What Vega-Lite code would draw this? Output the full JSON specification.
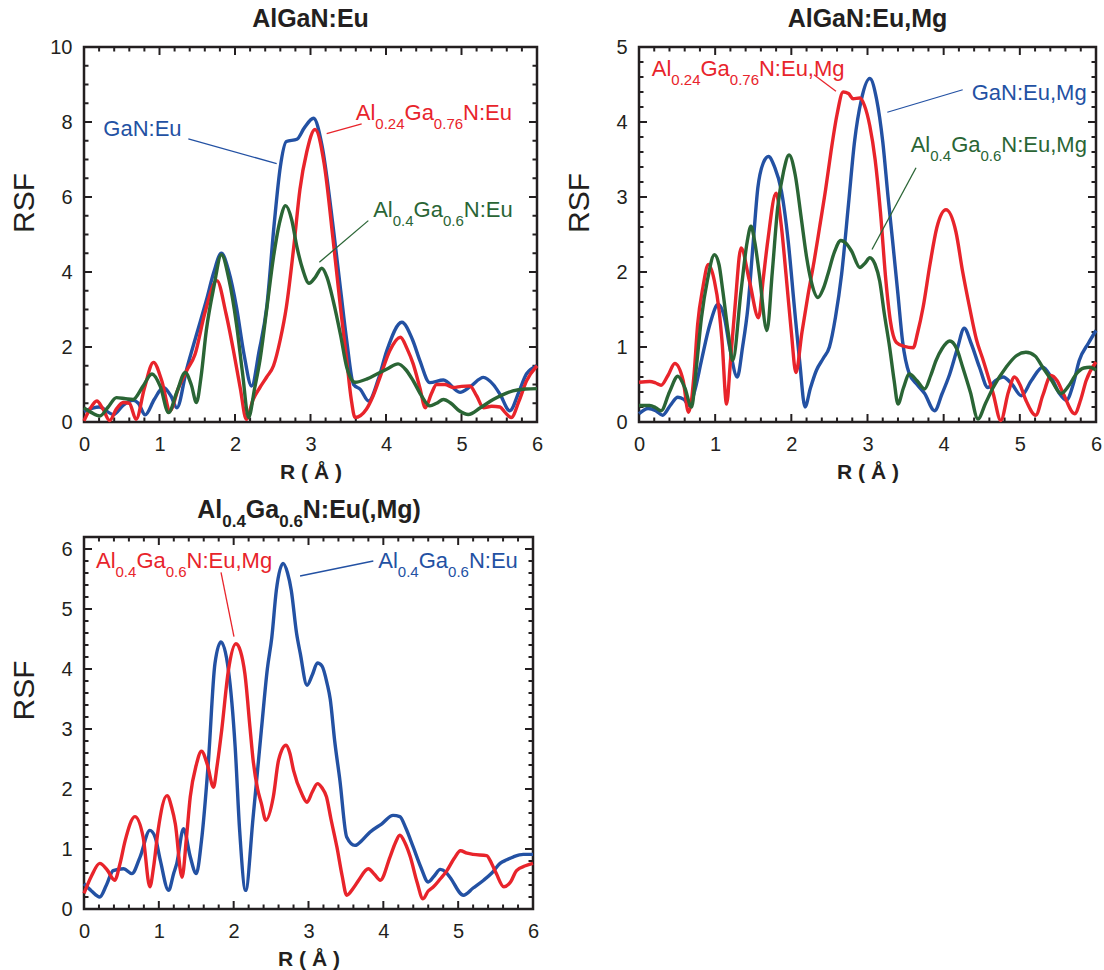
{
"$schema": "https://vega.github.io/schema/vega-lite/v6.json",
"background": "white",
"padding": {"left": 7, "top": 5, "right": 0, "bottom": 0},
"bounds": "flush",
"columns": 2,
"spacing": {"row": 115, "column": 102},
"resolve": {"scale": {"color": "independent", "x": "independent", "y": "independent"}},
"config": {"view": {"stroke": "#231f20", "strokeWidth": 2.5}, "font": "Liberation Sans", "text": {"font": "Liberation Sans"},
"axis": {"ticks": false, "domain": false, "grid": false, "labelFont": "Liberation Sans", "labelFontSize": 20, "labelColor": "#231f20", "labelFlush": false, "labelOverlap": false, "titleFont": "Liberation Sans", "titleColor": "#231f20", "titleAlign": "center", "titleBaseline": "alphabetic"}},
"datasets": {
"tx": [{"v":0,"k":"major"},{"v":0.2,"k":"minor"},{"v":0.4,"k":"minor"},{"v":0.6,"k":"minor"},{"v":0.8,"k":"minor"},{"v":1,"k":"major"},{"v":1.2,"k":"minor"},{"v":1.4,"k":"minor"},{"v":1.6,"k":"minor"},{"v":1.8,"k":"minor"},{"v":2,"k":"major"},{"v":2.2,"k":"minor"},{"v":2.4,"k":"minor"},{"v":2.6,"k":"minor"},{"v":2.8,"k":"minor"},{"v":3,"k":"major"},{"v":3.2,"k":"minor"},{"v":3.4,"k":"minor"},{"v":3.6,"k":"minor"},{"v":3.8,"k":"minor"},{"v":4,"k":"major"},{"v":4.2,"k":"minor"},{"v":4.4,"k":"minor"},{"v":4.6,"k":"minor"},{"v":4.8,"k":"minor"},{"v":5,"k":"major"},{"v":5.2,"k":"minor"},{"v":5.4,"k":"minor"},{"v":5.6,"k":"minor"},{"v":5.8,"k":"minor"},{"v":6,"k":"major"}],
"ty1": [{"v":0,"k":"major"},{"v":0.5,"k":"minor"},{"v":1,"k":"minor"},{"v":1.5,"k":"minor"},{"v":2,"k":"major"},{"v":2.5,"k":"minor"},{"v":3,"k":"minor"},{"v":3.5,"k":"minor"},{"v":4,"k":"major"},{"v":4.5,"k":"minor"},{"v":5,"k":"minor"},{"v":5.5,"k":"minor"},{"v":6,"k":"major"},{"v":6.5,"k":"minor"},{"v":7,"k":"minor"},{"v":7.5,"k":"minor"},{"v":8,"k":"major"},{"v":8.5,"k":"minor"},{"v":9,"k":"minor"},{"v":9.5,"k":"minor"},{"v":10,"k":"major"}],
"ty2": [{"v":0,"k":"major"},{"v":0.2,"k":"minor"},{"v":0.4,"k":"minor"},{"v":0.6,"k":"minor"},{"v":0.8,"k":"minor"},{"v":1,"k":"major"},{"v":1.2,"k":"minor"},{"v":1.4,"k":"minor"},{"v":1.6,"k":"minor"},{"v":1.8,"k":"minor"},{"v":2,"k":"major"},{"v":2.2,"k":"minor"},{"v":2.4,"k":"minor"},{"v":2.6,"k":"minor"},{"v":2.8,"k":"minor"},{"v":3,"k":"major"},{"v":3.2,"k":"minor"},{"v":3.4,"k":"minor"},{"v":3.6,"k":"minor"},{"v":3.8,"k":"minor"},{"v":4,"k":"major"},{"v":4.2,"k":"minor"},{"v":4.4,"k":"minor"},{"v":4.6,"k":"minor"},{"v":4.8,"k":"minor"},{"v":5,"k":"major"}],
"ty3": [{"v":0,"k":"major"},{"v":0.2,"k":"minor"},{"v":0.4,"k":"minor"},{"v":0.6,"k":"minor"},{"v":0.8,"k":"minor"},{"v":1,"k":"major"},{"v":1.2,"k":"minor"},{"v":1.4,"k":"minor"},{"v":1.6,"k":"minor"},{"v":1.8,"k":"minor"},{"v":2,"k":"major"},{"v":2.2,"k":"minor"},{"v":2.4,"k":"minor"},{"v":2.6,"k":"minor"},{"v":2.8,"k":"minor"},{"v":3,"k":"major"},{"v":3.2,"k":"minor"},{"v":3.4,"k":"minor"},{"v":3.6,"k":"minor"},{"v":3.8,"k":"minor"},{"v":4,"k":"major"},{"v":4.2,"k":"minor"},{"v":4.4,"k":"minor"},{"v":4.6,"k":"minor"},{"v":4.8,"k":"minor"},{"v":5,"k":"major"},{"v":5.2,"k":"minor"},{"v":5.4,"k":"minor"},{"v":5.6,"k":"minor"},{"v":5.8,"k":"minor"},{"v":6,"k":"major"},{"v":6.2,"k":"minor"}],
"p1": [
{"s":"GaN:Eu","r":0,"rsf":0.28},{"s":"GaN:Eu","r":0.2,"rsf":0.4},{"s":"GaN:Eu","r":0.39,"rsf":0.2},{"s":"GaN:Eu","r":0.52,"rsf":0.45},{"s":"GaN:Eu","r":0.65,"rsf":0.58},{"s":"GaN:Eu","r":0.72,"rsf":0.5},{"s":"GaN:Eu","r":0.81,"rsf":0.19},{"s":"GaN:Eu","r":0.93,"rsf":0.6},{"s":"GaN:Eu","r":1.05,"rsf":0.92},{"s":"GaN:Eu","r":1.15,"rsf":0.7},{"s":"GaN:Eu","r":1.23,"rsf":0.38},{"s":"GaN:Eu","r":1.36,"rsf":1.41},{"s":"GaN:Eu","r":1.5,"rsf":2.4},{"s":"GaN:Eu","r":1.62,"rsf":3.24},{"s":"GaN:Eu","r":1.72,"rsf":4.0},{"s":"GaN:Eu","r":1.82,"rsf":4.5},{"s":"GaN:Eu","r":1.92,"rsf":4.0},{"s":"GaN:Eu","r":2.02,"rsf":3.06},{"s":"GaN:Eu","r":2.12,"rsf":1.8},{"s":"GaN:Eu","r":2.22,"rsf":0.96},{"s":"GaN:Eu","r":2.32,"rsf":1.9},{"s":"GaN:Eu","r":2.42,"rsf":3.06},{"s":"GaN:Eu","r":2.52,"rsf":5.3},{"s":"GaN:Eu","r":2.6,"rsf":6.8},{"s":"GaN:Eu","r":2.68,"rsf":7.48},{"s":"GaN:Eu","r":2.82,"rsf":7.54},{"s":"GaN:Eu","r":2.92,"rsf":7.85},{"s":"GaN:Eu","r":3.04,"rsf":8.1},{"s":"GaN:Eu","r":3.15,"rsf":7.4},{"s":"GaN:Eu","r":3.3,"rsf":5.2},{"s":"GaN:Eu","r":3.4,"rsf":3.5},{"s":"GaN:Eu","r":3.48,"rsf":2.17},{"s":"GaN:Eu","r":3.57,"rsf":1.0},{"s":"GaN:Eu","r":3.66,"rsf":0.87},{"s":"GaN:Eu","r":3.77,"rsf":0.56},{"s":"GaN:Eu","r":3.9,"rsf":1.15},{"s":"GaN:Eu","r":4.01,"rsf":1.9},{"s":"GaN:Eu","r":4.21,"rsf":2.66},{"s":"GaN:Eu","r":4.35,"rsf":2.2},{"s":"GaN:Eu","r":4.45,"rsf":1.63},{"s":"GaN:Eu","r":4.58,"rsf":1.05},{"s":"GaN:Eu","r":4.76,"rsf":1.12},{"s":"GaN:Eu","r":4.98,"rsf":0.79},{"s":"GaN:Eu","r":5.12,"rsf":0.95},{"s":"GaN:Eu","r":5.29,"rsf":1.19},{"s":"GaN:Eu","r":5.42,"rsf":1.0},{"s":"GaN:Eu","r":5.51,"rsf":0.74},{"s":"GaN:Eu","r":5.64,"rsf":0.3},{"s":"GaN:Eu","r":5.76,"rsf":0.8},{"s":"GaN:Eu","r":5.86,"rsf":1.28},{"s":"GaN:Eu","r":6.0,"rsf":1.5},
{"s":"Al0.24Ga0.76N:Eu","r":0,"rsf":0.03},{"s":"Al0.24Ga0.76N:Eu","r":0.08,"rsf":0.35},{"s":"Al0.24Ga0.76N:Eu","r":0.17,"rsf":0.56},{"s":"Al0.24Ga0.76N:Eu","r":0.25,"rsf":0.35},{"s":"Al0.24Ga0.76N:Eu","r":0.34,"rsf":0.04},{"s":"Al0.24Ga0.76N:Eu","r":0.43,"rsf":0.35},{"s":"Al0.24Ga0.76N:Eu","r":0.52,"rsf":0.52},{"s":"Al0.24Ga0.76N:Eu","r":0.6,"rsf":0.5},{"s":"Al0.24Ga0.76N:Eu","r":0.69,"rsf":0.07},{"s":"Al0.24Ga0.76N:Eu","r":0.8,"rsf":0.9},{"s":"Al0.24Ga0.76N:Eu","r":0.92,"rsf":1.59},{"s":"Al0.24Ga0.76N:Eu","r":1.03,"rsf":1.1},{"s":"Al0.24Ga0.76N:Eu","r":1.14,"rsf":0.3},{"s":"Al0.24Ga0.76N:Eu","r":1.25,"rsf":0.9},{"s":"Al0.24Ga0.76N:Eu","r":1.36,"rsf":1.37},{"s":"Al0.24Ga0.76N:Eu","r":1.47,"rsf":1.8},{"s":"Al0.24Ga0.76N:Eu","r":1.6,"rsf":2.9},{"s":"Al0.24Ga0.76N:Eu","r":1.76,"rsf":3.77},{"s":"Al0.24Ga0.76N:Eu","r":1.88,"rsf":2.9},{"s":"Al0.24Ga0.76N:Eu","r":1.98,"rsf":1.9},{"s":"Al0.24Ga0.76N:Eu","r":2.07,"rsf":0.9},{"s":"Al0.24Ga0.76N:Eu","r":2.15,"rsf":0.07},{"s":"Al0.24Ga0.76N:Eu","r":2.24,"rsf":0.6},{"s":"Al0.24Ga0.76N:Eu","r":2.33,"rsf":0.92},{"s":"Al0.24Ga0.76N:Eu","r":2.42,"rsf":1.2},{"s":"Al0.24Ga0.76N:Eu","r":2.51,"rsf":1.5},{"s":"Al0.24Ga0.76N:Eu","r":2.6,"rsf":2.2},{"s":"Al0.24Ga0.76N:Eu","r":2.68,"rsf":3.06},{"s":"Al0.24Ga0.76N:Eu","r":2.78,"rsf":4.7},{"s":"Al0.24Ga0.76N:Eu","r":2.86,"rsf":6.2},{"s":"Al0.24Ga0.76N:Eu","r":2.95,"rsf":7.2},{"s":"Al0.24Ga0.76N:Eu","r":3.06,"rsf":7.8},{"s":"Al0.24Ga0.76N:Eu","r":3.18,"rsf":6.9},{"s":"Al0.24Ga0.76N:Eu","r":3.3,"rsf":4.85},{"s":"Al0.24Ga0.76N:Eu","r":3.4,"rsf":3.0},{"s":"Al0.24Ga0.76N:Eu","r":3.48,"rsf":1.64},{"s":"Al0.24Ga0.76N:Eu","r":3.54,"rsf":0.6},{"s":"Al0.24Ga0.76N:Eu","r":3.59,"rsf":0.12},{"s":"Al0.24Ga0.76N:Eu","r":3.74,"rsf":0.34},{"s":"Al0.24Ga0.76N:Eu","r":3.83,"rsf":0.7},{"s":"Al0.24Ga0.76N:Eu","r":3.92,"rsf":1.19},{"s":"Al0.24Ga0.76N:Eu","r":4.05,"rsf":1.9},{"s":"Al0.24Ga0.76N:Eu","r":4.19,"rsf":2.26},{"s":"Al0.24Ga0.76N:Eu","r":4.28,"rsf":1.95},{"s":"Al0.24Ga0.76N:Eu","r":4.36,"rsf":1.55},{"s":"Al0.24Ga0.76N:Eu","r":4.45,"rsf":0.9},{"s":"Al0.24Ga0.76N:Eu","r":4.52,"rsf":0.38},{"s":"Al0.24Ga0.76N:Eu","r":4.6,"rsf":0.75},{"s":"Al0.24Ga0.76N:Eu","r":4.67,"rsf":1.0},{"s":"Al0.24Ga0.76N:Eu","r":4.78,"rsf":1.0},{"s":"Al0.24Ga0.76N:Eu","r":4.89,"rsf":0.92},{"s":"Al0.24Ga0.76N:Eu","r":5.0,"rsf":0.95},{"s":"Al0.24Ga0.76N:Eu","r":5.11,"rsf":0.96},{"s":"Al0.24Ga0.76N:Eu","r":5.2,"rsf":0.7},{"s":"Al0.24Ga0.76N:Eu","r":5.29,"rsf":0.38},{"s":"Al0.24Ga0.76N:Eu","r":5.4,"rsf":0.42},{"s":"Al0.24Ga0.76N:Eu","r":5.51,"rsf":0.4},{"s":"Al0.24Ga0.76N:Eu","r":5.58,"rsf":0.25},{"s":"Al0.24Ga0.76N:Eu","r":5.66,"rsf":0.12},{"s":"Al0.24Ga0.76N:Eu","r":5.76,"rsf":0.55},{"s":"Al0.24Ga0.76N:Eu","r":5.86,"rsf":1.09},{"s":"Al0.24Ga0.76N:Eu","r":6.0,"rsf":1.5},
{"s":"Al0.4Ga0.6N:Eu","r":0,"rsf":0.38},{"s":"Al0.4Ga0.6N:Eu","r":0.1,"rsf":0.25},{"s":"Al0.4Ga0.6N:Eu","r":0.21,"rsf":0.16},{"s":"Al0.4Ga0.6N:Eu","r":0.32,"rsf":0.4},{"s":"Al0.4Ga0.6N:Eu","r":0.43,"rsf":0.65},{"s":"Al0.4Ga0.6N:Eu","r":0.55,"rsf":0.62},{"s":"Al0.4Ga0.6N:Eu","r":0.65,"rsf":0.6},{"s":"Al0.4Ga0.6N:Eu","r":0.78,"rsf":0.95},{"s":"Al0.4Ga0.6N:Eu","r":0.9,"rsf":1.28},{"s":"Al0.4Ga0.6N:Eu","r":1.01,"rsf":0.95},{"s":"Al0.4Ga0.6N:Eu","r":1.12,"rsf":0.25},{"s":"Al0.4Ga0.6N:Eu","r":1.23,"rsf":0.8},{"s":"Al0.4Ga0.6N:Eu","r":1.34,"rsf":1.32},{"s":"Al0.4Ga0.6N:Eu","r":1.42,"rsf":1.0},{"s":"Al0.4Ga0.6N:Eu","r":1.49,"rsf":0.52},{"s":"Al0.4Ga0.6N:Eu","r":1.55,"rsf":1.2},{"s":"Al0.4Ga0.6N:Eu","r":1.62,"rsf":2.44},{"s":"Al0.4Ga0.6N:Eu","r":1.72,"rsf":3.6},{"s":"Al0.4Ga0.6N:Eu","r":1.82,"rsf":4.46},{"s":"Al0.4Ga0.6N:Eu","r":1.92,"rsf":3.8},{"s":"Al0.4Ga0.6N:Eu","r":2.02,"rsf":2.6},{"s":"Al0.4Ga0.6N:Eu","r":2.1,"rsf":1.3},{"s":"Al0.4Ga0.6N:Eu","r":2.18,"rsf":0.12},{"s":"Al0.4Ga0.6N:Eu","r":2.26,"rsf":0.9},{"s":"Al0.4Ga0.6N:Eu","r":2.33,"rsf":1.64},{"s":"Al0.4Ga0.6N:Eu","r":2.42,"rsf":3.0},{"s":"Al0.4Ga0.6N:Eu","r":2.51,"rsf":4.4},{"s":"Al0.4Ga0.6N:Eu","r":2.6,"rsf":5.4},{"s":"Al0.4Ga0.6N:Eu","r":2.67,"rsf":5.77},{"s":"Al0.4Ga0.6N:Eu","r":2.75,"rsf":5.4},{"s":"Al0.4Ga0.6N:Eu","r":2.82,"rsf":4.67},{"s":"Al0.4Ga0.6N:Eu","r":2.9,"rsf":4.05},{"s":"Al0.4Ga0.6N:Eu","r":2.98,"rsf":3.7},{"s":"Al0.4Ga0.6N:Eu","r":3.06,"rsf":3.85},{"s":"Al0.4Ga0.6N:Eu","r":3.15,"rsf":4.1},{"s":"Al0.4Ga0.6N:Eu","r":3.22,"rsf":3.85},{"s":"Al0.4Ga0.6N:Eu","r":3.3,"rsf":3.24},{"s":"Al0.4Ga0.6N:Eu","r":3.4,"rsf":2.3},{"s":"Al0.4Ga0.6N:Eu","r":3.48,"rsf":1.46},{"s":"Al0.4Ga0.6N:Eu","r":3.59,"rsf":1.06},{"s":"Al0.4Ga0.6N:Eu","r":3.75,"rsf":1.15},{"s":"Al0.4Ga0.6N:Eu","r":3.88,"rsf":1.28},{"s":"Al0.4Ga0.6N:Eu","r":4.02,"rsf":1.42},{"s":"Al0.4Ga0.6N:Eu","r":4.16,"rsf":1.55},{"s":"Al0.4Ga0.6N:Eu","r":4.26,"rsf":1.4},{"s":"Al0.4Ga0.6N:Eu","r":4.36,"rsf":1.1},{"s":"Al0.4Ga0.6N:Eu","r":4.47,"rsf":0.7},{"s":"Al0.4Ga0.6N:Eu","r":4.58,"rsf":0.43},{"s":"Al0.4Ga0.6N:Eu","r":4.67,"rsf":0.5},{"s":"Al0.4Ga0.6N:Eu","r":4.76,"rsf":0.6},{"s":"Al0.4Ga0.6N:Eu","r":4.86,"rsf":0.5},{"s":"Al0.4Ga0.6N:Eu","r":4.97,"rsf":0.3},{"s":"Al0.4Ga0.6N:Eu","r":5.09,"rsf":0.2},{"s":"Al0.4Ga0.6N:Eu","r":5.25,"rsf":0.38},{"s":"Al0.4Ga0.6N:Eu","r":5.42,"rsf":0.6},{"s":"Al0.4Ga0.6N:Eu","r":5.55,"rsf":0.73},{"s":"Al0.4Ga0.6N:Eu","r":5.68,"rsf":0.83},{"s":"Al0.4Ga0.6N:Eu","r":5.85,"rsf":0.88},{"s":"Al0.4Ga0.6N:Eu","r":6.0,"rsf":0.89}
],
"p2": [
{"s":"GaN:Eu,Mg","r":0,"rsf":0.11},{"s":"GaN:Eu,Mg","r":0.12,"rsf":0.18},{"s":"GaN:Eu,Mg","r":0.22,"rsf":0.15},{"s":"GaN:Eu,Mg","r":0.31,"rsf":0.09},{"s":"GaN:Eu,Mg","r":0.41,"rsf":0.22},{"s":"GaN:Eu,Mg","r":0.51,"rsf":0.33},{"s":"GaN:Eu,Mg","r":0.59,"rsf":0.3},{"s":"GaN:Eu,Mg","r":0.66,"rsf":0.22},{"s":"GaN:Eu,Mg","r":0.74,"rsf":0.45},{"s":"GaN:Eu,Mg","r":0.82,"rsf":0.82},{"s":"GaN:Eu,Mg","r":0.93,"rsf":1.3},{"s":"GaN:Eu,Mg","r":1.04,"rsf":1.57},{"s":"GaN:Eu,Mg","r":1.12,"rsf":1.4},{"s":"GaN:Eu,Mg","r":1.19,"rsf":1.0},{"s":"GaN:Eu,Mg","r":1.29,"rsf":0.6},{"s":"GaN:Eu,Mg","r":1.36,"rsf":1.0},{"s":"GaN:Eu,Mg","r":1.43,"rsf":1.53},{"s":"GaN:Eu,Mg","r":1.5,"rsf":2.4},{"s":"GaN:Eu,Mg","r":1.56,"rsf":3.12},{"s":"GaN:Eu,Mg","r":1.63,"rsf":3.45},{"s":"GaN:Eu,Mg","r":1.7,"rsf":3.54},{"s":"GaN:Eu,Mg","r":1.78,"rsf":3.4},{"s":"GaN:Eu,Mg","r":1.87,"rsf":3.08},{"s":"GaN:Eu,Mg","r":1.96,"rsf":2.4},{"s":"GaN:Eu,Mg","r":2.04,"rsf":1.53},{"s":"GaN:Eu,Mg","r":2.11,"rsf":0.8},{"s":"GaN:Eu,Mg","r":2.18,"rsf":0.2},{"s":"GaN:Eu,Mg","r":2.25,"rsf":0.45},{"s":"GaN:Eu,Mg","r":2.33,"rsf":0.69},{"s":"GaN:Eu,Mg","r":2.42,"rsf":0.85},{"s":"GaN:Eu,Mg","r":2.5,"rsf":1.0},{"s":"GaN:Eu,Mg","r":2.58,"rsf":1.4},{"s":"GaN:Eu,Mg","r":2.66,"rsf":1.97},{"s":"GaN:Eu,Mg","r":2.75,"rsf":2.9},{"s":"GaN:Eu,Mg","r":2.83,"rsf":3.74},{"s":"GaN:Eu,Mg","r":2.92,"rsf":4.3},{"s":"GaN:Eu,Mg","r":3.03,"rsf":4.58},{"s":"GaN:Eu,Mg","r":3.12,"rsf":4.3},{"s":"GaN:Eu,Mg","r":3.2,"rsf":3.74},{"s":"GaN:Eu,Mg","r":3.27,"rsf":3.0},{"s":"GaN:Eu,Mg","r":3.33,"rsf":2.41},{"s":"GaN:Eu,Mg","r":3.4,"rsf":1.7},{"s":"GaN:Eu,Mg","r":3.46,"rsf":1.08},{"s":"GaN:Eu,Mg","r":3.55,"rsf":0.64},{"s":"GaN:Eu,Mg","r":3.65,"rsf":0.5},{"s":"GaN:Eu,Mg","r":3.75,"rsf":0.38},{"s":"GaN:Eu,Mg","r":3.88,"rsf":0.15},{"s":"GaN:Eu,Mg","r":3.98,"rsf":0.38},{"s":"GaN:Eu,Mg","r":4.08,"rsf":0.64},{"s":"GaN:Eu,Mg","r":4.18,"rsf":0.98},{"s":"GaN:Eu,Mg","r":4.27,"rsf":1.25},{"s":"GaN:Eu,Mg","r":4.36,"rsf":1.05},{"s":"GaN:Eu,Mg","r":4.47,"rsf":0.73},{"s":"GaN:Eu,Mg","r":4.58,"rsf":0.46},{"s":"GaN:Eu,Mg","r":4.68,"rsf":0.55},{"s":"GaN:Eu,Mg","r":4.78,"rsf":0.6},{"s":"GaN:Eu,Mg","r":4.9,"rsf":0.5},{"s":"GaN:Eu,Mg","r":5.02,"rsf":0.35},{"s":"GaN:Eu,Mg","r":5.15,"rsf":0.55},{"s":"GaN:Eu,Mg","r":5.3,"rsf":0.73},{"s":"GaN:Eu,Mg","r":5.41,"rsf":0.6},{"s":"GaN:Eu,Mg","r":5.52,"rsf":0.38},{"s":"GaN:Eu,Mg","r":5.61,"rsf":0.29},{"s":"GaN:Eu,Mg","r":5.7,"rsf":0.5},{"s":"GaN:Eu,Mg","r":5.78,"rsf":0.82},{"s":"GaN:Eu,Mg","r":5.9,"rsf":1.05},{"s":"GaN:Eu,Mg","r":6.0,"rsf":1.22},
{"s":"Al0.24Ga0.76N:Eu,Mg","r":0,"rsf":0.53},{"s":"Al0.24Ga0.76N:Eu,Mg","r":0.14,"rsf":0.54},{"s":"Al0.24Ga0.76N:Eu,Mg","r":0.22,"rsf":0.52},{"s":"Al0.24Ga0.76N:Eu,Mg","r":0.29,"rsf":0.49},{"s":"Al0.24Ga0.76N:Eu,Mg","r":0.38,"rsf":0.62},{"s":"Al0.24Ga0.76N:Eu,Mg","r":0.47,"rsf":0.78},{"s":"Al0.24Ga0.76N:Eu,Mg","r":0.58,"rsf":0.55},{"s":"Al0.24Ga0.76N:Eu,Mg","r":0.65,"rsf":0.13},{"s":"Al0.24Ga0.76N:Eu,Mg","r":0.72,"rsf":0.6},{"s":"Al0.24Ga0.76N:Eu,Mg","r":0.77,"rsf":1.3},{"s":"Al0.24Ga0.76N:Eu,Mg","r":0.84,"rsf":1.8},{"s":"Al0.24Ga0.76N:Eu,Mg","r":0.91,"rsf":2.1},{"s":"Al0.24Ga0.76N:Eu,Mg","r":0.99,"rsf":1.88},{"s":"Al0.24Ga0.76N:Eu,Mg","r":1.05,"rsf":1.5},{"s":"Al0.24Ga0.76N:Eu,Mg","r":1.09,"rsf":1.08},{"s":"Al0.24Ga0.76N:Eu,Mg","r":1.15,"rsf":0.24},{"s":"Al0.24Ga0.76N:Eu,Mg","r":1.2,"rsf":0.8},{"s":"Al0.24Ga0.76N:Eu,Mg","r":1.26,"rsf":1.53},{"s":"Al0.24Ga0.76N:Eu,Mg","r":1.34,"rsf":2.32},{"s":"Al0.24Ga0.76N:Eu,Mg","r":1.45,"rsf":1.88},{"s":"Al0.24Ga0.76N:Eu,Mg","r":1.57,"rsf":1.39},{"s":"Al0.24Ga0.76N:Eu,Mg","r":1.63,"rsf":1.9},{"s":"Al0.24Ga0.76N:Eu,Mg","r":1.69,"rsf":2.41},{"s":"Al0.24Ga0.76N:Eu,Mg","r":1.8,"rsf":3.05},{"s":"Al0.24Ga0.76N:Eu,Mg","r":1.87,"rsf":2.6},{"s":"Al0.24Ga0.76N:Eu,Mg","r":1.93,"rsf":1.97},{"s":"Al0.24Ga0.76N:Eu,Mg","r":2.0,"rsf":1.2},{"s":"Al0.24Ga0.76N:Eu,Mg","r":2.06,"rsf":0.66},{"s":"Al0.24Ga0.76N:Eu,Mg","r":2.14,"rsf":1.2},{"s":"Al0.24Ga0.76N:Eu,Mg","r":2.22,"rsf":1.7},{"s":"Al0.24Ga0.76N:Eu,Mg","r":2.3,"rsf":2.15},{"s":"Al0.24Ga0.76N:Eu,Mg","r":2.37,"rsf":2.59},{"s":"Al0.24Ga0.76N:Eu,Mg","r":2.45,"rsf":3.1},{"s":"Al0.24Ga0.76N:Eu,Mg","r":2.52,"rsf":3.6},{"s":"Al0.24Ga0.76N:Eu,Mg","r":2.6,"rsf":4.1},{"s":"Al0.24Ga0.76N:Eu,Mg","r":2.68,"rsf":4.4},{"s":"Al0.24Ga0.76N:Eu,Mg","r":2.75,"rsf":4.38},{"s":"Al0.24Ga0.76N:Eu,Mg","r":2.81,"rsf":4.31},{"s":"Al0.24Ga0.76N:Eu,Mg","r":2.9,"rsf":4.32},{"s":"Al0.24Ga0.76N:Eu,Mg","r":2.96,"rsf":4.22},{"s":"Al0.24Ga0.76N:Eu,Mg","r":3.03,"rsf":3.95},{"s":"Al0.24Ga0.76N:Eu,Mg","r":3.1,"rsf":3.5},{"s":"Al0.24Ga0.76N:Eu,Mg","r":3.17,"rsf":2.8},{"s":"Al0.24Ga0.76N:Eu,Mg","r":3.24,"rsf":1.9},{"s":"Al0.24Ga0.76N:Eu,Mg","r":3.3,"rsf":1.35},{"s":"Al0.24Ga0.76N:Eu,Mg","r":3.38,"rsf":1.06},{"s":"Al0.24Ga0.76N:Eu,Mg","r":3.48,"rsf":1.01},{"s":"Al0.24Ga0.76N:Eu,Mg","r":3.6,"rsf":0.99},{"s":"Al0.24Ga0.76N:Eu,Mg","r":3.66,"rsf":1.2},{"s":"Al0.24Ga0.76N:Eu,Mg","r":3.73,"rsf":1.53},{"s":"Al0.24Ga0.76N:Eu,Mg","r":3.82,"rsf":2.1},{"s":"Al0.24Ga0.76N:Eu,Mg","r":3.91,"rsf":2.59},{"s":"Al0.24Ga0.76N:Eu,Mg","r":4.03,"rsf":2.83},{"s":"Al0.24Ga0.76N:Eu,Mg","r":4.16,"rsf":2.54},{"s":"Al0.24Ga0.76N:Eu,Mg","r":4.25,"rsf":2.0},{"s":"Al0.24Ga0.76N:Eu,Mg","r":4.34,"rsf":1.53},{"s":"Al0.24Ga0.76N:Eu,Mg","r":4.43,"rsf":1.1},{"s":"Al0.24Ga0.76N:Eu,Mg","r":4.52,"rsf":0.82},{"s":"Al0.24Ga0.76N:Eu,Mg","r":4.65,"rsf":0.38},{"s":"Al0.24Ga0.76N:Eu,Mg","r":4.75,"rsf":0.02},{"s":"Al0.24Ga0.76N:Eu,Mg","r":4.85,"rsf":0.4},{"s":"Al0.24Ga0.76N:Eu,Mg","r":4.93,"rsf":0.6},{"s":"Al0.24Ga0.76N:Eu,Mg","r":5.0,"rsf":0.5},{"s":"Al0.24Ga0.76N:Eu,Mg","r":5.08,"rsf":0.29},{"s":"Al0.24Ga0.76N:Eu,Mg","r":5.21,"rsf":0.09},{"s":"Al0.24Ga0.76N:Eu,Mg","r":5.3,"rsf":0.35},{"s":"Al0.24Ga0.76N:Eu,Mg","r":5.41,"rsf":0.62},{"s":"Al0.24Ga0.76N:Eu,Mg","r":5.49,"rsf":0.55},{"s":"Al0.24Ga0.76N:Eu,Mg","r":5.57,"rsf":0.38},{"s":"Al0.24Ga0.76N:Eu,Mg","r":5.72,"rsf":0.11},{"s":"Al0.24Ga0.76N:Eu,Mg","r":5.8,"rsf":0.3},{"s":"Al0.24Ga0.76N:Eu,Mg","r":5.87,"rsf":0.55},{"s":"Al0.24Ga0.76N:Eu,Mg","r":6.0,"rsf":0.8},
{"s":"Al0.4Ga0.6N:Eu,Mg","r":0,"rsf":0.22},{"s":"Al0.4Ga0.6N:Eu,Mg","r":0.14,"rsf":0.22},{"s":"Al0.4Ga0.6N:Eu,Mg","r":0.22,"rsf":0.19},{"s":"Al0.4Ga0.6N:Eu,Mg","r":0.29,"rsf":0.15},{"s":"Al0.4Ga0.6N:Eu,Mg","r":0.4,"rsf":0.4},{"s":"Al0.4Ga0.6N:Eu,Mg","r":0.51,"rsf":0.61},{"s":"Al0.4Ga0.6N:Eu,Mg","r":0.6,"rsf":0.46},{"s":"Al0.4Ga0.6N:Eu,Mg","r":0.69,"rsf":0.2},{"s":"Al0.4Ga0.6N:Eu,Mg","r":0.75,"rsf":0.7},{"s":"Al0.4Ga0.6N:Eu,Mg","r":0.82,"rsf":1.39},{"s":"Al0.4Ga0.6N:Eu,Mg","r":0.9,"rsf":1.9},{"s":"Al0.4Ga0.6N:Eu,Mg","r":0.99,"rsf":2.23},{"s":"Al0.4Ga0.6N:Eu,Mg","r":1.05,"rsf":2.1},{"s":"Al0.4Ga0.6N:Eu,Mg","r":1.1,"rsf":1.75},{"s":"Al0.4Ga0.6N:Eu,Mg","r":1.17,"rsf":1.2},{"s":"Al0.4Ga0.6N:Eu,Mg","r":1.23,"rsf":0.82},{"s":"Al0.4Ga0.6N:Eu,Mg","r":1.34,"rsf":1.75},{"s":"Al0.4Ga0.6N:Eu,Mg","r":1.42,"rsf":2.4},{"s":"Al0.4Ga0.6N:Eu,Mg","r":1.47,"rsf":2.61},{"s":"Al0.4Ga0.6N:Eu,Mg","r":1.52,"rsf":2.4},{"s":"Al0.4Ga0.6N:Eu,Mg","r":1.58,"rsf":1.97},{"s":"Al0.4Ga0.6N:Eu,Mg","r":1.68,"rsf":1.22},{"s":"Al0.4Ga0.6N:Eu,Mg","r":1.75,"rsf":2.0},{"s":"Al0.4Ga0.6N:Eu,Mg","r":1.82,"rsf":2.85},{"s":"Al0.4Ga0.6N:Eu,Mg","r":1.9,"rsf":3.35},{"s":"Al0.4Ga0.6N:Eu,Mg","r":1.97,"rsf":3.56},{"s":"Al0.4Ga0.6N:Eu,Mg","r":2.05,"rsf":3.3},{"s":"Al0.4Ga0.6N:Eu,Mg","r":2.13,"rsf":2.72},{"s":"Al0.4Ga0.6N:Eu,Mg","r":2.2,"rsf":2.2},{"s":"Al0.4Ga0.6N:Eu,Mg","r":2.26,"rsf":1.88},{"s":"Al0.4Ga0.6N:Eu,Mg","r":2.35,"rsf":1.66},{"s":"Al0.4Ga0.6N:Eu,Mg","r":2.42,"rsf":1.78},{"s":"Al0.4Ga0.6N:Eu,Mg","r":2.48,"rsf":1.97},{"s":"Al0.4Ga0.6N:Eu,Mg","r":2.56,"rsf":2.25},{"s":"Al0.4Ga0.6N:Eu,Mg","r":2.65,"rsf":2.42},{"s":"Al0.4Ga0.6N:Eu,Mg","r":2.72,"rsf":2.38},{"s":"Al0.4Ga0.6N:Eu,Mg","r":2.79,"rsf":2.28},{"s":"Al0.4Ga0.6N:Eu,Mg","r":2.9,"rsf":2.06},{"s":"Al0.4Ga0.6N:Eu,Mg","r":2.97,"rsf":2.12},{"s":"Al0.4Ga0.6N:Eu,Mg","r":3.03,"rsf":2.19},{"s":"Al0.4Ga0.6N:Eu,Mg","r":3.1,"rsf":2.1},{"s":"Al0.4Ga0.6N:Eu,Mg","r":3.16,"rsf":1.88},{"s":"Al0.4Ga0.6N:Eu,Mg","r":3.22,"rsf":1.45},{"s":"Al0.4Ga0.6N:Eu,Mg","r":3.29,"rsf":1.0},{"s":"Al0.4Ga0.6N:Eu,Mg","r":3.35,"rsf":0.55},{"s":"Al0.4Ga0.6N:Eu,Mg","r":3.4,"rsf":0.24},{"s":"Al0.4Ga0.6N:Eu,Mg","r":3.47,"rsf":0.45},{"s":"Al0.4Ga0.6N:Eu,Mg","r":3.55,"rsf":0.64},{"s":"Al0.4Ga0.6N:Eu,Mg","r":3.65,"rsf":0.55},{"s":"Al0.4Ga0.6N:Eu,Mg","r":3.75,"rsf":0.44},{"s":"Al0.4Ga0.6N:Eu,Mg","r":3.83,"rsf":0.62},{"s":"Al0.4Ga0.6N:Eu,Mg","r":3.9,"rsf":0.82},{"s":"Al0.4Ga0.6N:Eu,Mg","r":3.98,"rsf":0.98},{"s":"Al0.4Ga0.6N:Eu,Mg","r":4.08,"rsf":1.08},{"s":"Al0.4Ga0.6N:Eu,Mg","r":4.17,"rsf":0.98},{"s":"Al0.4Ga0.6N:Eu,Mg","r":4.25,"rsf":0.73},{"s":"Al0.4Ga0.6N:Eu,Mg","r":4.35,"rsf":0.4},{"s":"Al0.4Ga0.6N:Eu,Mg","r":4.45,"rsf":0.04},{"s":"Al0.4Ga0.6N:Eu,Mg","r":4.55,"rsf":0.25},{"s":"Al0.4Ga0.6N:Eu,Mg","r":4.65,"rsf":0.46},{"s":"Al0.4Ga0.6N:Eu,Mg","r":4.82,"rsf":0.73},{"s":"Al0.4Ga0.6N:Eu,Mg","r":4.95,"rsf":0.88},{"s":"Al0.4Ga0.6N:Eu,Mg","r":5.08,"rsf":0.93},{"s":"Al0.4Ga0.6N:Eu,Mg","r":5.2,"rsf":0.88},{"s":"Al0.4Ga0.6N:Eu,Mg","r":5.3,"rsf":0.73},{"s":"Al0.4Ga0.6N:Eu,Mg","r":5.42,"rsf":0.55},{"s":"Al0.4Ga0.6N:Eu,Mg","r":5.54,"rsf":0.38},{"s":"Al0.4Ga0.6N:Eu,Mg","r":5.64,"rsf":0.48},{"s":"Al0.4Ga0.6N:Eu,Mg","r":5.74,"rsf":0.64},{"s":"Al0.4Ga0.6N:Eu,Mg","r":5.84,"rsf":0.72},{"s":"Al0.4Ga0.6N:Eu,Mg","r":5.92,"rsf":0.73},{"s":"Al0.4Ga0.6N:Eu,Mg","r":6.0,"rsf":0.69}
],
"p3": [
{"s":"Al0.4Ga0.6N:Eu","r":0,"rsf":0.42},{"s":"Al0.4Ga0.6N:Eu","r":0.1,"rsf":0.3},{"s":"Al0.4Ga0.6N:Eu","r":0.21,"rsf":0.2},{"s":"Al0.4Ga0.6N:Eu","r":0.3,"rsf":0.4},{"s":"Al0.4Ga0.6N:Eu","r":0.39,"rsf":0.64},{"s":"Al0.4Ga0.6N:Eu","r":0.53,"rsf":0.67},{"s":"Al0.4Ga0.6N:Eu","r":0.64,"rsf":0.59},{"s":"Al0.4Ga0.6N:Eu","r":0.75,"rsf":0.87},{"s":"Al0.4Ga0.6N:Eu","r":0.88,"rsf":1.31},{"s":"Al0.4Ga0.6N:Eu","r":0.95,"rsf":1.2},{"s":"Al0.4Ga0.6N:Eu","r":1.02,"rsf":0.81},{"s":"Al0.4Ga0.6N:Eu","r":1.13,"rsf":0.31},{"s":"Al0.4Ga0.6N:Eu","r":1.2,"rsf":0.6},{"s":"Al0.4Ga0.6N:Eu","r":1.24,"rsf":0.76},{"s":"Al0.4Ga0.6N:Eu","r":1.33,"rsf":1.34},{"s":"Al0.4Ga0.6N:Eu","r":1.42,"rsf":0.87},{"s":"Al0.4Ga0.6N:Eu","r":1.5,"rsf":0.59},{"s":"Al0.4Ga0.6N:Eu","r":1.57,"rsf":1.14},{"s":"Al0.4Ga0.6N:Eu","r":1.66,"rsf":2.42},{"s":"Al0.4Ga0.6N:Eu","r":1.75,"rsf":4.09},{"s":"Al0.4Ga0.6N:Eu","r":1.83,"rsf":4.45},{"s":"Al0.4Ga0.6N:Eu","r":1.93,"rsf":3.98},{"s":"Al0.4Ga0.6N:Eu","r":2.02,"rsf":2.7},{"s":"Al0.4Ga0.6N:Eu","r":2.08,"rsf":1.31},{"s":"Al0.4Ga0.6N:Eu","r":2.16,"rsf":0.31},{"s":"Al0.4Ga0.6N:Eu","r":2.26,"rsf":1.53},{"s":"Al0.4Ga0.6N:Eu","r":2.37,"rsf":2.98},{"s":"Al0.4Ga0.6N:Eu","r":2.45,"rsf":4.0},{"s":"Al0.4Ga0.6N:Eu","r":2.51,"rsf":4.53},{"s":"Al0.4Ga0.6N:Eu","r":2.57,"rsf":5.31},{"s":"Al0.4Ga0.6N:Eu","r":2.66,"rsf":5.76},{"s":"Al0.4Ga0.6N:Eu","r":2.72,"rsf":5.6},{"s":"Al0.4Ga0.6N:Eu","r":2.77,"rsf":5.31},{"s":"Al0.4Ga0.6N:Eu","r":2.84,"rsf":4.6},{"s":"Al0.4Ga0.6N:Eu","r":2.89,"rsf":4.26},{"s":"Al0.4Ga0.6N:Eu","r":2.98,"rsf":3.73},{"s":"Al0.4Ga0.6N:Eu","r":3.05,"rsf":3.9},{"s":"Al0.4Ga0.6N:Eu","r":3.12,"rsf":4.1},{"s":"Al0.4Ga0.6N:Eu","r":3.18,"rsf":4.05},{"s":"Al0.4Ga0.6N:Eu","r":3.25,"rsf":3.75},{"s":"Al0.4Ga0.6N:Eu","r":3.29,"rsf":3.5},{"s":"Al0.4Ga0.6N:Eu","r":3.35,"rsf":2.8},{"s":"Al0.4Ga0.6N:Eu","r":3.42,"rsf":2.14},{"s":"Al0.4Ga0.6N:Eu","r":3.51,"rsf":1.2},{"s":"Al0.4Ga0.6N:Eu","r":3.62,"rsf":1.06},{"s":"Al0.4Ga0.6N:Eu","r":3.72,"rsf":1.15},{"s":"Al0.4Ga0.6N:Eu","r":3.82,"rsf":1.28},{"s":"Al0.4Ga0.6N:Eu","r":3.98,"rsf":1.42},{"s":"Al0.4Ga0.6N:Eu","r":4.13,"rsf":1.56},{"s":"Al0.4Ga0.6N:Eu","r":4.22,"rsf":1.54},{"s":"Al0.4Ga0.6N:Eu","r":4.3,"rsf":1.35},{"s":"Al0.4Ga0.6N:Eu","r":4.4,"rsf":1.03},{"s":"Al0.4Ga0.6N:Eu","r":4.5,"rsf":0.7},{"s":"Al0.4Ga0.6N:Eu","r":4.6,"rsf":0.45},{"s":"Al0.4Ga0.6N:Eu","r":4.68,"rsf":0.55},{"s":"Al0.4Ga0.6N:Eu","r":4.76,"rsf":0.66},{"s":"Al0.4Ga0.6N:Eu","r":4.83,"rsf":0.62},{"s":"Al0.4Ga0.6N:Eu","r":4.89,"rsf":0.53},{"s":"Al0.4Ga0.6N:Eu","r":5.07,"rsf":0.23},{"s":"Al0.4Ga0.6N:Eu","r":5.2,"rsf":0.35},{"s":"Al0.4Ga0.6N:Eu","r":5.34,"rsf":0.48},{"s":"Al0.4Ga0.6N:Eu","r":5.45,"rsf":0.6},{"s":"Al0.4Ga0.6N:Eu","r":5.56,"rsf":0.76},{"s":"Al0.4Ga0.6N:Eu","r":5.65,"rsf":0.82},{"s":"Al0.4Ga0.6N:Eu","r":5.74,"rsf":0.87},{"s":"Al0.4Ga0.6N:Eu","r":5.87,"rsf":0.91},{"s":"Al0.4Ga0.6N:Eu","r":6.0,"rsf":0.91},
{"s":"Al0.4Ga0.6N:Eu,Mg","r":0,"rsf":0.26},{"s":"Al0.4Ga0.6N:Eu,Mg","r":0.1,"rsf":0.55},{"s":"Al0.4Ga0.6N:Eu,Mg","r":0.21,"rsf":0.76},{"s":"Al0.4Ga0.6N:Eu,Mg","r":0.31,"rsf":0.65},{"s":"Al0.4Ga0.6N:Eu,Mg","r":0.41,"rsf":0.48},{"s":"Al0.4Ga0.6N:Eu,Mg","r":0.48,"rsf":0.75},{"s":"Al0.4Ga0.6N:Eu,Mg","r":0.55,"rsf":1.14},{"s":"Al0.4Ga0.6N:Eu,Mg","r":0.68,"rsf":1.54},{"s":"Al0.4Ga0.6N:Eu,Mg","r":0.79,"rsf":1.2},{"s":"Al0.4Ga0.6N:Eu,Mg","r":0.88,"rsf":0.37},{"s":"Al0.4Ga0.6N:Eu,Mg","r":0.93,"rsf":0.7},{"s":"Al0.4Ga0.6N:Eu,Mg","r":0.99,"rsf":1.31},{"s":"Al0.4Ga0.6N:Eu,Mg","r":1.11,"rsf":1.89},{"s":"Al0.4Ga0.6N:Eu,Mg","r":1.17,"rsf":1.7},{"s":"Al0.4Ga0.6N:Eu,Mg","r":1.22,"rsf":1.42},{"s":"Al0.4Ga0.6N:Eu,Mg","r":1.31,"rsf":0.53},{"s":"Al0.4Ga0.6N:Eu,Mg","r":1.37,"rsf":1.2},{"s":"Al0.4Ga0.6N:Eu,Mg","r":1.42,"rsf":1.87},{"s":"Al0.4Ga0.6N:Eu,Mg","r":1.5,"rsf":2.4},{"s":"Al0.4Ga0.6N:Eu,Mg","r":1.57,"rsf":2.63},{"s":"Al0.4Ga0.6N:Eu,Mg","r":1.65,"rsf":2.4},{"s":"Al0.4Ga0.6N:Eu,Mg","r":1.73,"rsf":2.03},{"s":"Al0.4Ga0.6N:Eu,Mg","r":1.78,"rsf":2.4},{"s":"Al0.4Ga0.6N:Eu,Mg","r":1.84,"rsf":2.98},{"s":"Al0.4Ga0.6N:Eu,Mg","r":1.93,"rsf":3.98},{"s":"Al0.4Ga0.6N:Eu,Mg","r":2.03,"rsf":4.42},{"s":"Al0.4Ga0.6N:Eu,Mg","r":2.09,"rsf":4.3},{"s":"Al0.4Ga0.6N:Eu,Mg","r":2.15,"rsf":3.92},{"s":"Al0.4Ga0.6N:Eu,Mg","r":2.22,"rsf":3.0},{"s":"Al0.4Ga0.6N:Eu,Mg","r":2.26,"rsf":2.48},{"s":"Al0.4Ga0.6N:Eu,Mg","r":2.32,"rsf":2.0},{"s":"Al0.4Ga0.6N:Eu,Mg","r":2.37,"rsf":1.76},{"s":"Al0.4Ga0.6N:Eu,Mg","r":2.43,"rsf":1.48},{"s":"Al0.4Ga0.6N:Eu,Mg","r":2.53,"rsf":1.87},{"s":"Al0.4Ga0.6N:Eu,Mg","r":2.6,"rsf":2.48},{"s":"Al0.4Ga0.6N:Eu,Mg","r":2.7,"rsf":2.73},{"s":"Al0.4Ga0.6N:Eu,Mg","r":2.75,"rsf":2.6},{"s":"Al0.4Ga0.6N:Eu,Mg","r":2.8,"rsf":2.31},{"s":"Al0.4Ga0.6N:Eu,Mg","r":2.91,"rsf":1.92},{"s":"Al0.4Ga0.6N:Eu,Mg","r":2.98,"rsf":1.78},{"s":"Al0.4Ga0.6N:Eu,Mg","r":3.05,"rsf":1.95},{"s":"Al0.4Ga0.6N:Eu,Mg","r":3.12,"rsf":2.09},{"s":"Al0.4Ga0.6N:Eu,Mg","r":3.18,"rsf":2.02},{"s":"Al0.4Ga0.6N:Eu,Mg","r":3.24,"rsf":1.87},{"s":"Al0.4Ga0.6N:Eu,Mg","r":3.3,"rsf":1.5},{"s":"Al0.4Ga0.6N:Eu,Mg","r":3.38,"rsf":1.03},{"s":"Al0.4Ga0.6N:Eu,Mg","r":3.45,"rsf":0.55},{"s":"Al0.4Ga0.6N:Eu,Mg","r":3.51,"rsf":0.23},{"s":"Al0.4Ga0.6N:Eu,Mg","r":3.6,"rsf":0.35},{"s":"Al0.4Ga0.6N:Eu,Mg","r":3.67,"rsf":0.48},{"s":"Al0.4Ga0.6N:Eu,Mg","r":3.8,"rsf":0.67},{"s":"Al0.4Ga0.6N:Eu,Mg","r":3.88,"rsf":0.58},{"s":"Al0.4Ga0.6N:Eu,Mg","r":3.96,"rsf":0.48},{"s":"Al0.4Ga0.6N:Eu,Mg","r":4.09,"rsf":0.87},{"s":"Al0.4Ga0.6N:Eu,Mg","r":4.16,"rsf":1.1},{"s":"Al0.4Ga0.6N:Eu,Mg","r":4.22,"rsf":1.23},{"s":"Al0.4Ga0.6N:Eu,Mg","r":4.29,"rsf":1.1},{"s":"Al0.4Ga0.6N:Eu,Mg","r":4.36,"rsf":0.87},{"s":"Al0.4Ga0.6N:Eu,Mg","r":4.45,"rsf":0.45},{"s":"Al0.4Ga0.6N:Eu,Mg","r":4.53,"rsf":0.17},{"s":"Al0.4Ga0.6N:Eu,Mg","r":4.6,"rsf":0.3},{"s":"Al0.4Ga0.6N:Eu,Mg","r":4.67,"rsf":0.37},{"s":"Al0.4Ga0.6N:Eu,Mg","r":4.76,"rsf":0.5},{"s":"Al0.4Ga0.6N:Eu,Mg","r":4.85,"rsf":0.64},{"s":"Al0.4Ga0.6N:Eu,Mg","r":4.95,"rsf":0.85},{"s":"Al0.4Ga0.6N:Eu,Mg","r":5.03,"rsf":0.97},{"s":"Al0.4Ga0.6N:Eu,Mg","r":5.12,"rsf":0.93},{"s":"Al0.4Ga0.6N:Eu,Mg","r":5.2,"rsf":0.91},{"s":"Al0.4Ga0.6N:Eu,Mg","r":5.38,"rsf":0.89},{"s":"Al0.4Ga0.6N:Eu,Mg","r":5.45,"rsf":0.75},{"s":"Al0.4Ga0.6N:Eu,Mg","r":5.51,"rsf":0.59},{"s":"Al0.4Ga0.6N:Eu,Mg","r":5.61,"rsf":0.37},{"s":"Al0.4Ga0.6N:Eu,Mg","r":5.7,"rsf":0.45},{"s":"Al0.4Ga0.6N:Eu,Mg","r":5.78,"rsf":0.64},{"s":"Al0.4Ga0.6N:Eu,Mg","r":5.9,"rsf":0.72},{"s":"Al0.4Ga0.6N:Eu,Mg","r":6.0,"rsf":0.76}
],
"lead1": [
{"s":"GaN:Eu","x1":1.382,"y1":7.55,"x2":2.552,"y2":6.89},
{"s":"Al0.24Ga0.76N:Eu","x1":3.678,"y1":7.95,"x2":3.214,"y2":7.69},
{"s":"Al0.4Ga0.6N:Eu","x1":3.766,"y1":5.37,"x2":3.117,"y2":4.26}
],
"lab1": [
{"s":"GaN:Eu","t":"GaN:Eu","k":"main","x":0.256,"y":7.64},
{"s":"Al0.24Ga0.76N:Eu","t":"Al","k":"main","x":3.6,"y":8.06},
{"s":"Al0.24Ga0.76N:Eu","t":"0.24","k":"sub","x":3.859,"y":8.06},
{"s":"Al0.24Ga0.76N:Eu","t":"Ga","k":"main","x":4.246,"y":8.06},
{"s":"Al0.24Ga0.76N:Eu","t":"0.76","k":"sub","x":4.634,"y":8.06},
{"s":"Al0.24Ga0.76N:Eu","t":"N:Eu","k":"main","x":5.021,"y":8.06},
{"s":"Al0.4Ga0.6N:Eu","t":"Al","k":"main","x":3.83,"y":5.46},
{"s":"Al0.4Ga0.6N:Eu","t":"0.4","k":"sub","x":4.089,"y":5.46},
{"s":"Al0.4Ga0.6N:Eu","t":"Ga","k":"main","x":4.365,"y":5.46},
{"s":"Al0.4Ga0.6N:Eu","t":"0.6","k":"sub","x":4.754,"y":5.46},
{"s":"Al0.4Ga0.6N:Eu","t":"N:Eu","k":"main","x":5.03,"y":5.46}
],
"lead2": [
{"s":"Al0.24Ga0.76N:Eu,Mg","x1":2.297,"y1":4.63,"x2":2.586,"y2":4.41},
{"s":"GaN:Eu,Mg","x1":4.25,"y1":4.43,"x2":3.26,"y2":4.13},
{"s":"Al0.4Ga0.6N:Eu,Mg","x1":3.637,"y1":3.39,"x2":3.059,"y2":2.3}
],
"lab2": [
{"s":"Al0.24Ga0.76N:Eu,Mg","t":"Al","k":"main","x":0.167,"y":4.61},
{"s":"Al0.24Ga0.76N:Eu,Mg","t":"0.24","k":"sub","x":0.424,"y":4.61},
{"s":"Al0.24Ga0.76N:Eu,Mg","t":"Ga","k":"main","x":0.807,"y":4.61},
{"s":"Al0.24Ga0.76N:Eu,Mg","t":"0.76","k":"sub","x":1.192,"y":4.61},
{"s":"Al0.24Ga0.76N:Eu,Mg","t":"N:Eu,Mg","k":"main","x":1.575,"y":4.61},
{"s":"GaN:Eu,Mg","t":"GaN:Eu,Mg","k":"main","x":4.368,"y":4.3},
{"s":"Al0.4Ga0.6N:Eu,Mg","t":"Al","k":"main","x":3.567,"y":3.6},
{"s":"Al0.4Ga0.6N:Eu,Mg","t":"0.4","k":"sub","x":3.824,"y":3.6},
{"s":"Al0.4Ga0.6N:Eu,Mg","t":"Ga","k":"main","x":4.098,"y":3.6},
{"s":"Al0.4Ga0.6N:Eu,Mg","t":"0.6","k":"sub","x":4.483,"y":3.6},
{"s":"Al0.4Ga0.6N:Eu,Mg","t":"N:Eu,Mg","k":"main","x":4.757,"y":3.6}
],
"lead3": [
{"s":"Al0.4Ga0.6N:Eu,Mg","x1":1.831,"y1":5.61,"x2":2.004,"y2":4.54},
{"s":"Al0.4Ga0.6N:Eu","x1":3.866,"y1":5.8,"x2":2.887,"y2":5.55}
],
"lab3": [
{"s":"Al0.4Ga0.6N:Eu,Mg","t":"Al","k":"main","x":0.16,"y":5.69},
{"s":"Al0.4Ga0.6N:Eu,Mg","t":"0.4","k":"sub","x":0.421,"y":5.69},
{"s":"Al0.4Ga0.6N:Eu,Mg","t":"Ga","k":"main","x":0.7,"y":5.69},
{"s":"Al0.4Ga0.6N:Eu,Mg","t":"0.6","k":"sub","x":1.092,"y":5.69},
{"s":"Al0.4Ga0.6N:Eu,Mg","t":"N:Eu,Mg","k":"main","x":1.371,"y":5.69},
{"s":"Al0.4Ga0.6N:Eu","t":"Al","k":"main","x":3.933,"y":5.69},
{"s":"Al0.4Ga0.6N:Eu","t":"0.4","k":"sub","x":4.194,"y":5.69},
{"s":"Al0.4Ga0.6N:Eu","t":"Ga","k":"main","x":4.473,"y":5.69},
{"s":"Al0.4Ga0.6N:Eu","t":"0.6","k":"sub","x":4.865,"y":5.69},
{"s":"Al0.4Ga0.6N:Eu","t":"N:Eu","k":"main","x":5.144,"y":5.69}
],
"title3": [
{"t":"Al","k":"main","x":1.514,"y":6.51},
{"t":"0.4","k":"sub","x":1.848,"y":6.51},
{"t":"Ga","k":"main","x":2.163,"y":6.51},
{"t":"0.6","k":"sub","x":2.609,"y":6.51},
{"t":"N:Eu(,Mg)","k":"main","x":2.924,"y":6.51}
]
},
"concat": [
{
"width": 453, "height": 375,
"title": {"text": "AlGaN:Eu", "font": "Liberation Sans", "fontSize": 25, "fontWeight": "bold", "color": "#231f20", "baseline": "alphabetic", "offset": -15},
"layer": [
{"data": {"name": "tx"}, "mark": {"type": "tick", "orient": "vertical", "thickness": 2, "color": "#231f20", "opacity": 1, "clip": true},
"encoding": {"x": {"field": "v", "type": "quantitative", "scale": {"domain": [0, 6], "nice": false}, "axis": null}, "y": {"datum": 0, "axis": null}, "size": {"field": "k", "type": "ordinal", "scale": {"domain": ["major", "minor"], "range": [16, 9]}, "legend": null}}},
{"data": {"name": "tx"}, "mark": {"type": "tick", "orient": "vertical", "thickness": 2, "color": "#231f20", "opacity": 1, "clip": true},
"encoding": {"x": {"field": "v", "type": "quantitative", "axis": null}, "y": {"datum": 10, "axis": null}, "size": {"field": "k", "type": "ordinal", "scale": {"domain": ["major", "minor"], "range": [16, 9]}, "legend": null}}},
{"data": {"name": "ty1"}, "mark": {"type": "tick", "orient": "horizontal", "thickness": 2, "color": "#231f20", "opacity": 1, "clip": true},
"encoding": {"y": {"field": "v", "type": "quantitative", "scale": {"domain": [0, 10], "nice": false}, "axis": null}, "x": {"datum": 0, "axis": null}, "size": {"field": "k", "type": "ordinal", "scale": {"domain": ["major", "minor"], "range": [16, 9]}, "legend": null}}},
{"data": {"name": "ty1"}, "mark": {"type": "tick", "orient": "horizontal", "thickness": 2, "color": "#231f20", "opacity": 1, "clip": true},
"encoding": {"y": {"field": "v", "type": "quantitative", "axis": null}, "x": {"datum": 6, "axis": null}, "size": {"field": "k", "type": "ordinal", "scale": {"domain": ["major", "minor"], "range": [16, 9]}, "legend": null}}},
{"data": {"name": "p1"}, "mark": {"type": "line", "interpolate": "monotone", "strokeWidth": 3.4},
"encoding": {
"x": {"field": "r", "type": "quantitative", "scale": {"domain": [0, 6], "nice": false},
"axis": {"orient": "bottom", "values": [0,1,2,3,4,5,6], "format": "d", "labelPadding": 12, "title": "R ( Å )", "titleFontSize": 21, "titleFontWeight": "bold", "titleX": 226.5, "titleY": 56}},
"y": {"field": "rsf", "type": "quantitative", "scale": {"domain": [0, 10], "nice": false},
"axis": {"orient": "left", "values": [0,2,4,6,8,10], "format": "d", "labelPadding": 12, "title": "RSF", "titleFontSize": 30, "titleFontWeight": "normal", "titleX": -51, "titleY": 155.5, "titleAngle": -90}},
"color": {"field": "s", "type": "nominal", "scale": {"domain": ["GaN:Eu", "Al0.24Ga0.76N:Eu", "Al0.4Ga0.6N:Eu"], "range": ["#2351a3", "#e8242b", "#2a6535"]}, "legend": null}
}},
{"data": {"name": "lead1"}, "mark": {"type": "rule", "strokeWidth": 1.3},
"encoding": {"x": {"field": "x1", "type": "quantitative", "axis": null}, "x2": {"field": "x2"}, "y": {"field": "y1", "type": "quantitative", "axis": null}, "y2": {"field": "y2"}, "color": {"field": "s", "type": "nominal", "legend": null}}},
{"data": {"name": "lab1"}, "transform": [{"filter": "datum.k == 'main'"}], "mark": {"type": "text", "align": "left", "baseline": "alphabetic", "fontSize": 22, "font": "Liberation Sans"},
"encoding": {"x": {"field": "x", "type": "quantitative", "axis": null}, "y": {"field": "y", "type": "quantitative", "axis": null}, "text": {"field": "t"}, "color": {"field": "s", "type": "nominal", "legend": null}}},
{"data": {"name": "lab1"}, "transform": [{"filter": "datum.k == 'sub'"}], "mark": {"type": "text", "align": "left", "baseline": "alphabetic", "fontSize": 15, "dy": 9, "font": "Liberation Sans"},
"encoding": {"x": {"field": "x", "type": "quantitative", "axis": null}, "y": {"field": "y", "type": "quantitative", "axis": null}, "text": {"field": "t"}, "color": {"field": "s", "type": "nominal", "legend": null}}}
],
"resolve": {"axis": {"x": "independent", "y": "independent"}}
},
{
"width": 457, "height": 375,
"title": {"text": "AlGaN:Eu,Mg", "font": "Liberation Sans", "fontSize": 25, "fontWeight": "bold", "color": "#231f20", "baseline": "alphabetic", "offset": -15},
"layer": [
{"data": {"name": "tx"}, "mark": {"type": "tick", "orient": "vertical", "thickness": 2, "color": "#231f20", "opacity": 1, "clip": true},
"encoding": {"x": {"field": "v", "type": "quantitative", "scale": {"domain": [0, 6], "nice": false}, "axis": null}, "y": {"datum": 0, "axis": null}, "size": {"field": "k", "type": "ordinal", "scale": {"domain": ["major", "minor"], "range": [16, 9]}, "legend": null}}},
{"data": {"name": "tx"}, "mark": {"type": "tick", "orient": "vertical", "thickness": 2, "color": "#231f20", "opacity": 1, "clip": true},
"encoding": {"x": {"field": "v", "type": "quantitative", "axis": null}, "y": {"datum": 5, "axis": null}, "size": {"field": "k", "type": "ordinal", "scale": {"domain": ["major", "minor"], "range": [16, 9]}, "legend": null}}},
{"data": {"name": "ty2"}, "mark": {"type": "tick", "orient": "horizontal", "thickness": 2, "color": "#231f20", "opacity": 1, "clip": true},
"encoding": {"y": {"field": "v", "type": "quantitative", "scale": {"domain": [0, 5], "nice": false}, "axis": null}, "x": {"datum": 0, "axis": null}, "size": {"field": "k", "type": "ordinal", "scale": {"domain": ["major", "minor"], "range": [16, 9]}, "legend": null}}},
{"data": {"name": "ty2"}, "mark": {"type": "tick", "orient": "horizontal", "thickness": 2, "color": "#231f20", "opacity": 1, "clip": true},
"encoding": {"y": {"field": "v", "type": "quantitative", "axis": null}, "x": {"datum": 6, "axis": null}, "size": {"field": "k", "type": "ordinal", "scale": {"domain": ["major", "minor"], "range": [16, 9]}, "legend": null}}},
{"data": {"name": "p2"}, "mark": {"type": "line", "interpolate": "monotone", "strokeWidth": 3.4},
"encoding": {
"x": {"field": "r", "type": "quantitative", "scale": {"domain": [0, 6], "nice": false},
"axis": {"orient": "bottom", "values": [0,1,2,3,4,5,6], "format": "d", "labelPadding": 12, "title": "R ( Å )", "titleFontSize": 21, "titleFontWeight": "bold", "titleX": 228.5, "titleY": 56}},
"y": {"field": "rsf", "type": "quantitative", "scale": {"domain": [0, 5], "nice": false},
"axis": {"orient": "left", "values": [0,1,2,3,4,5], "format": "d", "labelPadding": 12, "title": "RSF", "titleFontSize": 30, "titleFontWeight": "normal", "titleX": -51, "titleY": 155.5, "titleAngle": -90}},
"color": {"field": "s", "type": "nominal", "scale": {"domain": ["GaN:Eu,Mg", "Al0.24Ga0.76N:Eu,Mg", "Al0.4Ga0.6N:Eu,Mg"], "range": ["#2351a3", "#e8242b", "#2a6535"]}, "legend": null}
}},
{"data": {"name": "lead2"}, "mark": {"type": "rule", "strokeWidth": 1.3},
"encoding": {"x": {"field": "x1", "type": "quantitative", "axis": null}, "x2": {"field": "x2"}, "y": {"field": "y1", "type": "quantitative", "axis": null}, "y2": {"field": "y2"}, "color": {"field": "s", "type": "nominal", "legend": null}}},
{"data": {"name": "lab2"}, "transform": [{"filter": "datum.k == 'main'"}], "mark": {"type": "text", "align": "left", "baseline": "alphabetic", "fontSize": 22, "font": "Liberation Sans"},
"encoding": {"x": {"field": "x", "type": "quantitative", "axis": null}, "y": {"field": "y", "type": "quantitative", "axis": null}, "text": {"field": "t"}, "color": {"field": "s", "type": "nominal", "legend": null}}},
{"data": {"name": "lab2"}, "transform": [{"filter": "datum.k == 'sub'"}], "mark": {"type": "text", "align": "left", "baseline": "alphabetic", "fontSize": 15, "dy": 9, "font": "Liberation Sans"},
"encoding": {"x": {"field": "x", "type": "quantitative", "axis": null}, "y": {"field": "y", "type": "quantitative", "axis": null}, "text": {"field": "t"}, "color": {"field": "s", "type": "nominal", "legend": null}}}
],
"resolve": {"axis": {"x": "independent", "y": "independent"}}
},
{
"width": 449, "height": 372,
"layer": [
{"data": {"name": "tx"}, "mark": {"type": "tick", "orient": "vertical", "thickness": 2, "color": "#231f20", "opacity": 1, "clip": true},
"encoding": {"x": {"field": "v", "type": "quantitative", "scale": {"domain": [0, 6], "nice": false}, "axis": null}, "y": {"datum": 0, "axis": null}, "size": {"field": "k", "type": "ordinal", "scale": {"domain": ["major", "minor"], "range": [16, 9]}, "legend": null}}},
{"data": {"name": "tx"}, "mark": {"type": "tick", "orient": "vertical", "thickness": 2, "color": "#231f20", "opacity": 1, "clip": true},
"encoding": {"x": {"field": "v", "type": "quantitative", "axis": null}, "y": {"datum": 6.2, "axis": null}, "size": {"field": "k", "type": "ordinal", "scale": {"domain": ["major", "minor"], "range": [16, 9]}, "legend": null}}},
{"data": {"name": "ty3"}, "mark": {"type": "tick", "orient": "horizontal", "thickness": 2, "color": "#231f20", "opacity": 1, "clip": true},
"encoding": {"y": {"field": "v", "type": "quantitative", "scale": {"domain": [0, 6.2], "nice": false}, "axis": null}, "x": {"datum": 0, "axis": null}, "size": {"field": "k", "type": "ordinal", "scale": {"domain": ["major", "minor"], "range": [16, 9]}, "legend": null}}},
{"data": {"name": "ty3"}, "mark": {"type": "tick", "orient": "horizontal", "thickness": 2, "color": "#231f20", "opacity": 1, "clip": true},
"encoding": {"y": {"field": "v", "type": "quantitative", "axis": null}, "x": {"datum": 6, "axis": null}, "size": {"field": "k", "type": "ordinal", "scale": {"domain": ["major", "minor"], "range": [16, 9]}, "legend": null}}},
{"data": {"name": "p3"}, "mark": {"type": "line", "interpolate": "monotone", "strokeWidth": 3.4},
"encoding": {
"x": {"field": "r", "type": "quantitative", "scale": {"domain": [0, 6], "nice": false},
"axis": {"orient": "bottom", "values": [0,1,2,3,4,5,6], "format": "d", "labelPadding": 12, "title": "R ( Å )", "titleFontSize": 21, "titleFontWeight": "bold", "titleX": 224.5, "titleY": 56}},
"y": {"field": "rsf", "type": "quantitative", "scale": {"domain": [0, 6.2], "nice": false},
"axis": {"orient": "left", "values": [0,1,2,3,4,5,6], "format": "d", "labelPadding": 12, "title": "RSF", "titleFontSize": 30, "titleFontWeight": "normal", "titleX": -51, "titleY": 153, "titleAngle": -90}},
"color": {"field": "s", "type": "nominal", "scale": {"domain": ["Al0.4Ga0.6N:Eu", "Al0.4Ga0.6N:Eu,Mg"], "range": ["#2351a3", "#e8242b"]}, "legend": null}
}},
{"data": {"name": "lead3"}, "mark": {"type": "rule", "strokeWidth": 1.3},
"encoding": {"x": {"field": "x1", "type": "quantitative", "axis": null}, "x2": {"field": "x2"}, "y": {"field": "y1", "type": "quantitative", "axis": null}, "y2": {"field": "y2"}, "color": {"field": "s", "type": "nominal", "legend": null}}},
{"data": {"name": "lab3"}, "transform": [{"filter": "datum.k == 'main'"}], "mark": {"type": "text", "align": "left", "baseline": "alphabetic", "fontSize": 22, "font": "Liberation Sans"},
"encoding": {"x": {"field": "x", "type": "quantitative", "axis": null}, "y": {"field": "y", "type": "quantitative", "axis": null}, "text": {"field": "t"}, "color": {"field": "s", "type": "nominal", "legend": null}}},
{"data": {"name": "lab3"}, "transform": [{"filter": "datum.k == 'sub'"}], "mark": {"type": "text", "align": "left", "baseline": "alphabetic", "fontSize": 15, "dy": 9, "font": "Liberation Sans"},
"encoding": {"x": {"field": "x", "type": "quantitative", "axis": null}, "y": {"field": "y", "type": "quantitative", "axis": null}, "text": {"field": "t"}, "color": {"field": "s", "type": "nominal", "legend": null}}},
{"data": {"name": "title3"}, "transform": [{"filter": "datum.k == 'main'"}], "mark": {"type": "text", "align": "left", "baseline": "alphabetic", "fontSize": 25, "fontWeight": "bold", "font": "Liberation Sans", "color": "#231f20"},
"encoding": {"x": {"field": "x", "type": "quantitative", "axis": null}, "y": {"field": "y", "type": "quantitative", "axis": null}, "text": {"field": "t"}}},
{"data": {"name": "title3"}, "transform": [{"filter": "datum.k == 'sub'"}], "mark": {"type": "text", "align": "left", "baseline": "alphabetic", "fontSize": 17, "fontWeight": "bold", "dy": 9, "font": "Liberation Sans", "color": "#231f20"},
"encoding": {"x": {"field": "x", "type": "quantitative", "axis": null}, "y": {"field": "y", "type": "quantitative", "axis": null}, "text": {"field": "t"}}}
],
"resolve": {"axis": {"x": "independent", "y": "independent"}}
}
]
}
